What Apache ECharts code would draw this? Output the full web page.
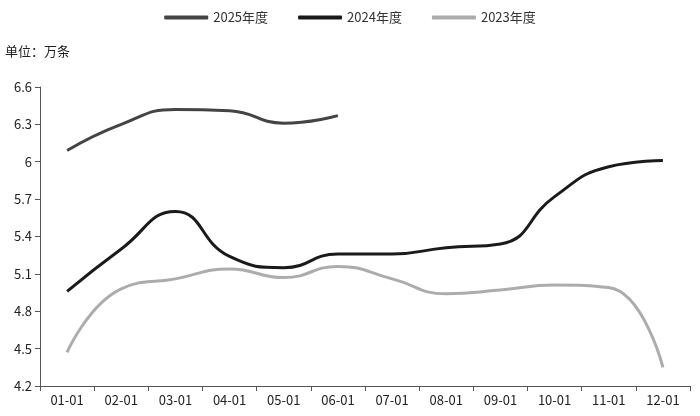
<!DOCTYPE html>
<html>
<head>
<meta charset="utf-8">
<script src="https://cdn.jsdelivr.net/npm/echarts@6/dist/echarts.min.js"></script>
<style>html,body{margin:0;padding:0;background:#fff}#chart{width:700px;height:416px}</style>
</head>
<body>
<div id="chart"></div>
<script>
var categories = ['01-01','02-01','03-01','04-01','05-01','06-01','07-01','08-01','09-01','10-01','11-01','12-01'];
var y2025 = [6.09, 6.30, 6.42, 6.41, 6.31, 6.37];
var y2024 = [4.96, 5.30, 5.60, 5.24, 5.15, 5.26, 5.26, 5.31, 5.34, 5.72, 5.96, 6.01];
var y2023 = [4.47, 4.98, 5.06, 5.14, 5.07, 5.16, 5.06, 4.94, 4.97, 5.01, 4.99, 4.35];
var yTicks = { min: 4.2, max: 6.6, interval: 0.3 };

var chart = echarts.init(document.getElementById('chart'));
var font = '"Noto Sans CJK SC", "DejaVu Sans", sans-serif';
function line(name, data, color) {
  return { name: name, type: 'line', smooth: 0.5, symbol: 'none', data: data,
    lineStyle: { color: color, width: 3 }, itemStyle: { color: color } };
}
chart.setOption({
  animation: false,
  textStyle: { fontFamily: font },
  title: { text: '单位：万条', left: 0, top: 40, textStyle: { fontSize: 13, fontWeight: 'normal', color: '#222' } },
  legend: {
    top: 6, left: 'center', itemWidth: 44, itemHeight: 4, itemGap: 30, icon: 'roundRect',
    textStyle: { fontSize: 13, color: '#333' },
    data: ['2025年度', '2024年度', '2023年度']
  },
  grid: { left: 40, right: 10, top: 87, bottom: 30 },
  xAxis: {
    type: 'category', data: categories, boundaryGap: true,
    axisLine: { lineStyle: { color: '#555' } },
    axisTick: { show: true, lineStyle: { color: '#555' } },
    axisLabel: { color: '#222', fontSize: 13 }
  },
  yAxis: {
    type: 'value', min: yTicks.min, max: yTicks.max, interval: yTicks.interval,
    axisLine: { show: true, lineStyle: { color: '#555' } },
    axisTick: { show: true, lineStyle: { color: '#555' } },
    splitLine: { show: false },
    axisLabel: { color: '#222', fontSize: 13, formatter: function (v) { return +v.toFixed(1) + ''; } }
  },
  series: [
    line('2025年度', y2025, '#444444'),
    line('2024年度', y2024, '#1a1a1a'),
    line('2023年度', y2023, '#acacac')
  ]
});
</script>
</body>
</html>
